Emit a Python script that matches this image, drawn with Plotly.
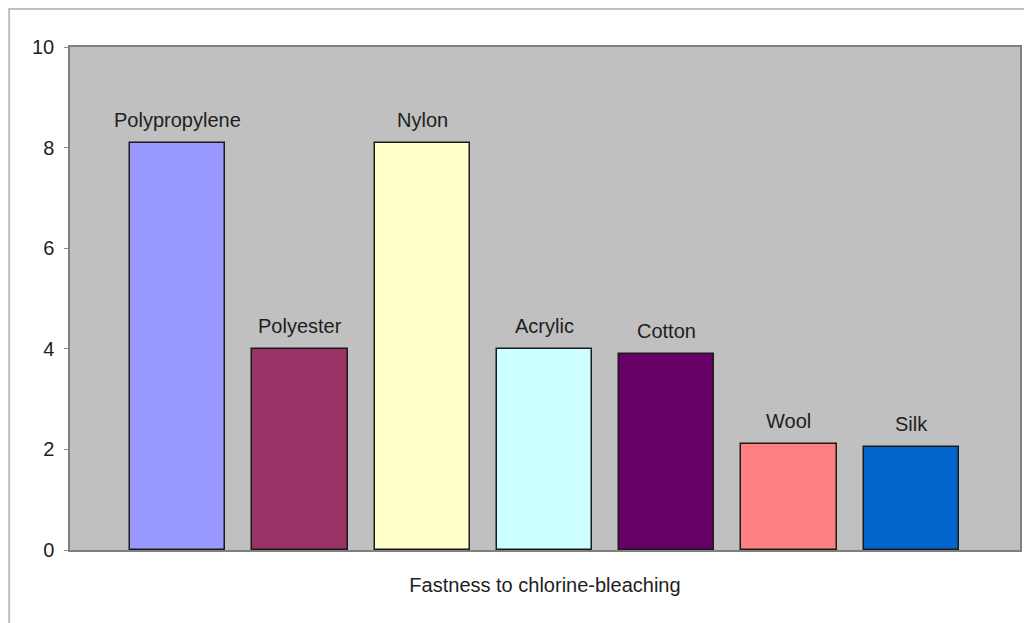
import plotly.graph_objects as go

fibres = ["Polypropylene", "Polyester", "Nylon", "Acrylic", "Cotton", "Wool", "Silk"]
fastness = [8.1, 4.0, 8.1, 4.0, 3.9, 2.1, 2.05]
colors = ["#9999FF", "#993366", "#FFFFCC", "#CCFFFF", "#660066", "#FF8080", "#0066CC"]
y_ticks = [0, 2, 4, 6, 8, 10]
x_title = "Fastness to chlorine-bleaching"

FONT = "Liberation Sans, Arial, sans-serif"
TXT = "#1e1e1e"

# page body has an 8px default margin: compensate so the plot lands where the reference is
OFF = 8
W, H = 1032 - OFF, 623 - OFF
ml, mr, mt, mb = 70 - OFF, 10, 47 - OFF, 73
pw, ph = W - ml - mr, H - mt - mb


def px_x(p):
    return (p - OFF - ml) / pw


def px_y(p):
    return 1 - (p - OFF - mt) / ph


fig = go.Figure()
fig.add_trace(go.Bar(
    x=fibres, y=fastness,
    marker=dict(color=colors, line=dict(color="#1a1a1a", width=1.5)),
    width=0.78,
    hoverinfo="x+y",
))

for name, v in zip(fibres, fastness):
    fig.add_annotation(x=name, y=v, text=name, showarrow=False,
                       yanchor="middle", yshift=23,
                       font=dict(family=FONT, size=20, color=TXT))

# outer chart border (light gray frame)
fig.add_shape(type="rect", xref="paper", yref="paper",
              x0=px_x(9), x1=px_x(1027), y0=px_y(640), y1=px_y(9),
              line=dict(color="#c0c0c0", width=2), fillcolor="rgba(0,0,0,0)",
              layer="below")

fig.update_layout(
    width=W, height=H,
    margin=dict(l=ml, r=mr, t=mt, b=mb),
    paper_bgcolor="white",
    plot_bgcolor="#C0C0C0",
    showlegend=False,
    bargap=0,
    font=dict(family=FONT, size=20, color=TXT),
    xaxis=dict(
        range=[-0.882, 6.89],
        showticklabels=False, ticks="",
        showgrid=False, zeroline=False,
        showline=True, linecolor="#7f7f7f", linewidth=1.5, mirror=True,
        title=dict(text=x_title, standoff=27,
                   font=dict(family=FONT, size=20, color=TXT)),
    ),
    yaxis=dict(
        range=[0, 10], tickvals=y_ticks,
        ticks="outside", ticklen=4, tickcolor="#8c8c8c", tickwidth=1,
        showgrid=False, zeroline=False,
        showline=True, linecolor="#7f7f7f", linewidth=1.5, mirror=True,
        ticklabelstandoff=6,
        tickfont=dict(family=FONT, size=20, color=TXT),
    ),
)

fig.write_html("out.html")
